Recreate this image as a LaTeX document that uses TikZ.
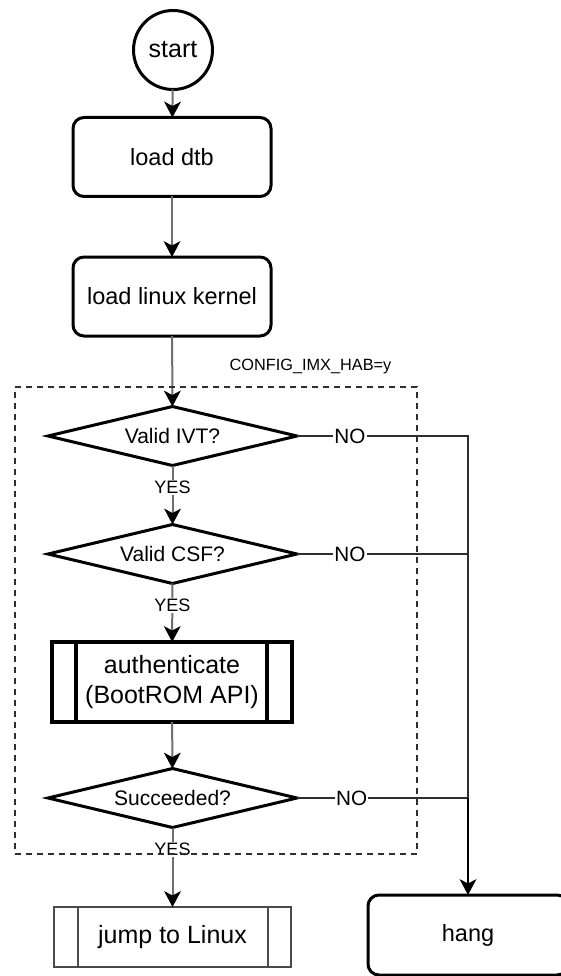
\documentclass[tikz,border=0pt]{standalone}
\usepackage{fontspec}
\setmainfont{Liberation Sans}
\usetikzlibrary{shapes.geometric,arrows.meta}
\definecolor{conngray}{HTML}{6E6E6E}
\definecolor{nogray}{HTML}{2E2E2E}
\definecolor{boxgray}{HTML}{4A4A4A}
\begin{document}
\begin{tikzpicture}[x=1pt,y=-1pt,
  every node/.style={outer sep=0pt, inner sep=0pt, align=center},
  termbox/.style={draw=black, line width=3pt, rounded corners=11pt, minimum width=198pt, minimum height=79pt, font=\fontsize{23.5}{28}\selectfont},
  startnode/.style={draw=black, line width=3pt, circle, minimum size=79pt, font=\fontsize{25}{30}\selectfont},
  decision/.style={draw=black, line width=3pt, diamond, aspect=4.2, minimum width=249pt, minimum height=59pt, font=\fontsize{21}{25}\selectfont},
  procbox/.style={draw=black, line width=3.2pt, rectangle, minimum width=240pt, minimum height=80pt, font=\fontsize{25}{30}\selectfont},
  jumpbox/.style={draw=boxgray, line width=2pt, rectangle, minimum width=237pt, minimum height=60pt, font=\fontsize{25}{30}\selectfont},
  conn/.style={draw=conngray, line width=2pt, -{Stealth[length=16pt,width=17pt,inset=4.5pt,color=black,line width=0pt]}},
  noline/.style={draw=nogray, line width=2pt},
  yeslbl/.style={fill=white, inner sep=1pt, font=\fontsize{18}{22}\selectfont},
  nolbl/.style={fill=white, inner sep=1pt, font=\fontsize{20.7}{24}\selectfont},
  framebox/.style={draw=nogray, line width=1.7pt, dash pattern=on 6pt off 5pt, rectangle, minimum width=402pt, minimum height=467pt}
]
\useasboundingbox (0,0) rectangle (560,976);

\node[startnode] (start) at (173,50) {start};
\node[termbox] (dtb) at (172,157) {load dtb};
\node[termbox] (kernel) at (172,296.5) {load linux kernel};
\node[decision] (ivt) at (172.5,436) {Valid IVT?};
\node[decision] (csf) at (172.5,554) {Valid CSF?};
\node[procbox] (auth) at (172,682) {authenticate\\(BootROM API)};
\node[decision] (succ) at (172.5,798) {Succeeded?};
\node[jumpbox] (jump) at (172.5,937) {jump to Linux};
\node[termbox, minimum width=200pt, minimum height=80pt] (hang) at (468,935) {hang};

% inner lines of predefined-process boxes
\draw[line width=3.2pt, draw=black] ([xshift=24pt]auth.north west) -- ([xshift=24pt]auth.south west);
\draw[line width=3.2pt, draw=black] ([xshift=-25pt]auth.north east) -- ([xshift=-25pt]auth.south east);
\draw[line width=2pt, draw=boxgray] ([xshift=24pt]jump.north west) -- ([xshift=24pt]jump.south west);
\draw[line width=2pt, draw=boxgray] ([xshift=-23pt]jump.north east) -- ([xshift=-23pt]jump.south east);

% main flow
\draw[conn] (start) -- (dtb);
\draw[conn] (dtb) -- (kernel);
\draw[conn] (kernel) -- (ivt);
\draw[conn] (ivt) -- node[yeslbl, pos=0.37] (y1) {YES} (csf);
\draw[conn] (csf) -- node[yeslbl, pos=0.37] (y2) {YES} (auth);
\draw[conn] (auth) -- (succ);
\draw[conn] (succ) -- node[yeslbl, pos=0.28] (y3) {YES} (jump);

% NO branches
\coordinate (c1) at (ivt.east -| hang.north);
\coordinate (c2) at (csf.east -| hang.north);
\coordinate (c3) at (succ.east -| hang.north);
\draw[noline] (ivt.east) -- node[nolbl, pos=0.31] (n1) {NO} (c1) -- (c2);
\draw[noline] (csf.east) -- node[nolbl, pos=0.31] (n2) {NO} (c2) -- (c3);
\draw[noline] (succ.east) -- node[nolbl, pos=0.32] (n3) {NO} (c3);
\draw[noline, draw=black, -{Stealth[length=16pt,width=17pt,inset=4.5pt,color=black,line width=0pt]}] (c3) -- (hang.north);

% dashed group frame
\node[framebox] (frame) at (216,620.5) {};
\node[font=\fontsize{16.3}{20}\selectfont, anchor=south] (cfg) at (310.5,374) {CONFIG\_IMX\_HAB=y};
\end{tikzpicture}
\end{document}
